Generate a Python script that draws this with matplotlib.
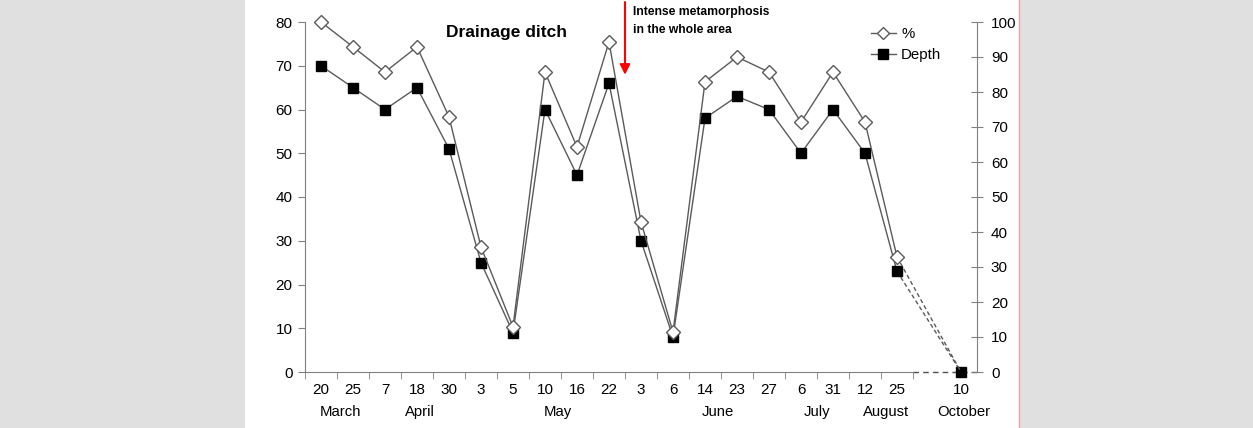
import matplotlib
matplotlib.use("Agg")
from matplotlib import pyplot as plt
from matplotlib.patches import Rectangle

plt.rcParams['font.family'] = ['Liberation Sans', 'DejaVu Sans']

# дни отбора проб (пустая категория перед октябрём)
days = ['20', '25', '7', '18', '30', '3', '5', '10', '16', '22', '3', '6',
        '14', '23', '27', '6', '31', '12', '25', '', '10']
months = ['March', 'April', 'May', 'June', 'July', 'August', 'October']
month_pos = [0.6, 3.1, 7.4, 12.4, 15.5, 17.65, 20.1]

# глубина (левая ось) и % (правая ось); None = нет данных
depth = [70, 65, 60, 65, 51, 25, 9, 60, 45, 66, 30, 8, 58, 63, 60, 50, 60, 50, 23, None, 0]
pct = [100, 92.9, 85.7, 92.9, 72.9, 35.7, 12.9, 85.7, 64.3, 94.3, 42.9, 11.4,
       82.9, 90, 85.7, 71.4, 85.7, 71.4, 32.9, None, 0]

fig = plt.figure(figsize=(12.53, 4.28), dpi=100)
fig.patch.set_facecolor('#e0e0e0')
fig.patches.append(Rectangle((245 / 1253, 0), (1019 - 245) / 1253, 1, transform=fig.transFigure,
                             facecolor='white', edgecolor='none', zorder=-10))
fig.add_artist(plt.Line2D([1019 / 1253] * 2, [0, 1], color='#f2a0a0', lw=1))

ax = fig.add_axes([305 / 1253, 56 / 428, 672 / 1253, 350 / 428])
ax2 = ax.twinx()
ax.set_facecolor('none')

xs = list(range(len(days)))
line_col = '#5a5a5a'
last = 18  # последняя точка сплошной линии

# сплошные участки
ax.plot(xs[:last + 1], depth[:last + 1], color=line_col, lw=1, marker='s', ms=7.2,
        mfc='black', mec='black', zorder=3, clip_on=False)
ax2.plot(xs[:last + 1], pct[:last + 1], color=line_col, lw=1, marker='D', ms=7,
         mfc='white', mec=line_col, mew=1, zorder=3, clip_on=False)
# пунктир до октября
ax.plot([xs[last], xs[20]], [depth[last], depth[20]], color=line_col, lw=1, ls=(0, (3, 2)))
ax2.plot([xs[last], xs[20]], [pct[last], pct[20]], color=line_col, lw=1, ls=(0, (3, 2)))
ax.plot([xs[20]], [depth[20]], marker='s', ms=7.2, color='black', clip_on=False, zorder=5)

ax.set_xlim(-0.5, 20.5)
ax.set_ylim(0, 80)
ax2.set_ylim(0, 100)
ax.set_yticks(range(0, 81, 10))
ax2.set_yticks(range(0, 101, 10))

for a in (ax, ax2):
    for s in a.spines.values():
        s.set_visible(False)
ax.spines['left'].set_visible(True)
ax.spines['left'].set_color('#808080')
ax.spines['bottom'].set_visible(True)
ax.spines['bottom'].set_color('#808080')
ax.spines['bottom'].set_bounds(-0.5, 18.5)
ax2.spines['right'].set_visible(True)
ax2.spines['right'].set_color('#808080')
ax.plot([18.5, 20.5], [0, 0], color='#505050', lw=1, ls=(0, (4, 3)), clip_on=False)

ax.tick_params(axis='y', direction='out', length=5, color='#808080', labelsize=11, pad=4)
ax2.tick_params(axis='y', direction='inout', length=8, color='#808080', labelsize=11, pad=6)

ax.set_xticks(xs)
ax.set_xticklabels(days)
ax.set_xticks([i - 0.5 for i in range(20)], minor=True)
ax.tick_params(axis='x', which='major', length=0, labelsize=11, pad=8)
ax.tick_params(axis='x', which='minor', direction='out', length=5, color='#808080')

for m, p in zip(months, month_pos):
    ax.text(p, -0.115, m, transform=ax.get_xaxis_transform(), ha='center', va='center', fontsize=10.7)

ax.text(0.3, 0.97, 'Drainage ditch', transform=ax.transAxes, ha='center', va='center',
        fontsize=12.5, fontweight='bold')

# красная стрелка от верхнего края до ~67
ax.annotate('', xy=(9.5, 67.3), xytext=(9.5, 85.2), xycoords='data',
            arrowprops=dict(arrowstyle='-|>', color='red', lw=1.5, mutation_scale=15),
            annotation_clip=False)
ax.text(9.75, 83.6, 'Intense metamorphosis\nin the whole area', fontsize=8.7,
        fontweight='bold', va='top', ha='left', linespacing=1.65)

h1, = ax2.plot([], [], color=line_col, lw=1, marker='D', ms=6, mfc='white', mec=line_col)
h2, = ax.plot([], [], color=line_col, lw=1, marker='s', ms=6.5, mfc='black', mec='black')
ax2.legend([h1, h2], ['%', 'Depth'], loc='upper left', bbox_to_anchor=(863 / 1253, 1 - 20 / 428),
           bbox_transform=fig.transFigure, frameon=False, fontsize=10.8, handlelength=1.7,
           handletextpad=0.35, borderpad=0, labelspacing=0.45)

plt.savefig('out.png', dpi=100, facecolor=fig.get_facecolor())
